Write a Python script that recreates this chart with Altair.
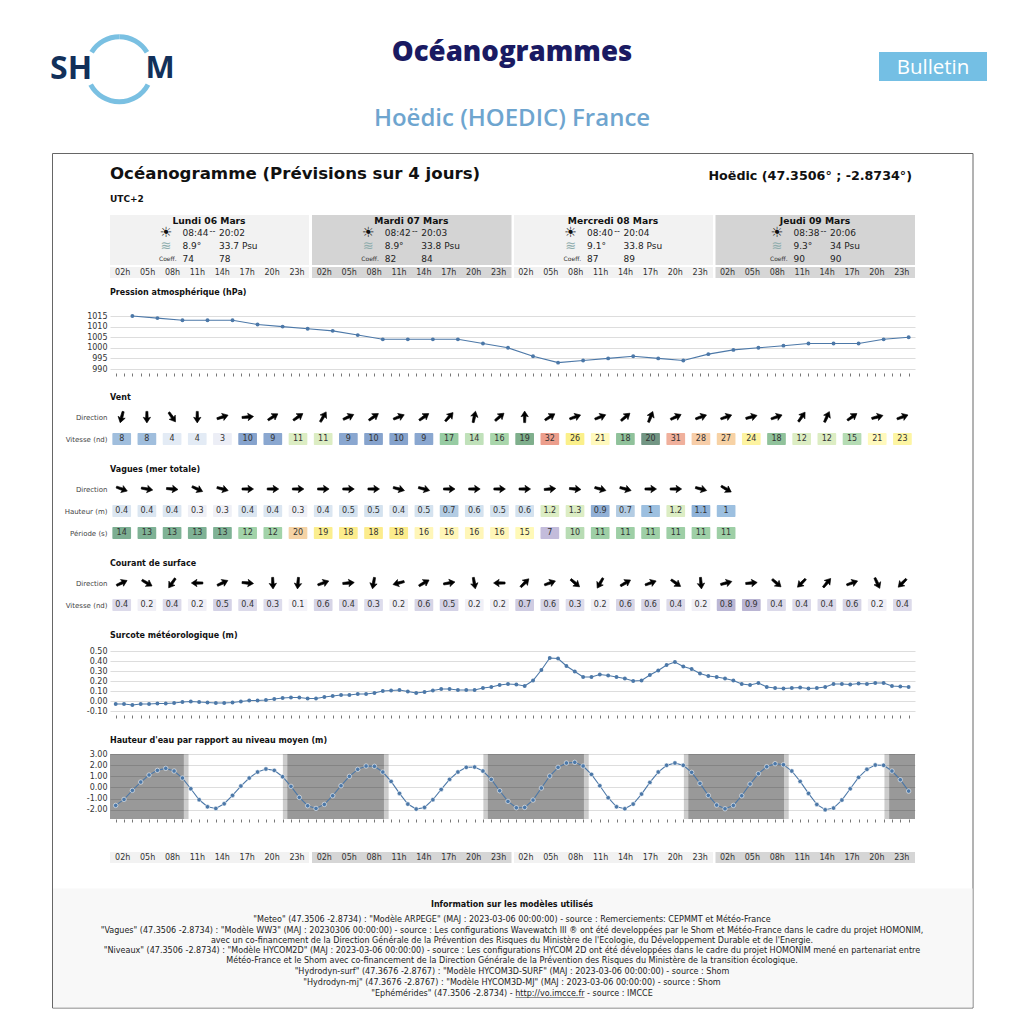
import altair as alt
import pandas as pd

# ---------- values ----------
PRESSION = [1015,1014,1013,1013,1013,1011,1010,1009,1008,1006,1004,1004,1004,1004,1002,1000,
            996,993,994,995,996,995,994,997,999,1000,1001,1002,1002,1002,1004,1005]
VENT_DIR = [195,180,145,180,72,85,58,55,30,65,55,68,55,42,12,50,
            0,58,70,68,50,22,65,70,70,75,70,35,25,55,75,70]
VENT_VIT = [8,8,4,4,3,10,9,11,11,9,10,10,9,17,14,16,19,32,26,21,18,20,31,28,27,24,18,12,12,15,21,23]
VAGUE_DIR = [110,100,95,115,105,90,90,90,90,90,90,105,105,90,90,90,90,85,95,105,105,90,90,105,120]
VAGUE_HAUT = [.4,.4,.4,.3,.3,.4,.4,.3,.4,.5,.5,.4,.5,.7,.6,.5,.6,1.2,1.3,.9,.7,1,1.2,1.1,1]
VAGUE_PER = [14,13,13,13,13,12,12,20,19,18,18,18,16,16,16,16,15,7,10,11,11,11,11,11,11]
COUR_DIR = [65,120,215,270,65,95,178,185,70,85,190,255,60,80,170,270,
            45,70,130,210,60,70,125,175,75,85,130,225,40,70,155,225]
COUR_VIT = [.4,.2,.4,.2,.5,.4,.3,.1,.6,.4,.3,.2,.6,.5,.2,.2,.7,.6,.3,.2,.6,.6,.4,.2,.8,.9,.4,.4,.4,.6,.2,.4]
SURCOTE = [-.03,-.03,-.04,-.03,-.03,-.025,-.025,-.02,-.01,-.005,-.01,-.015,-.02,-.02,-.015,-.005,
           .005,.005,.01,.02,.03,.035,.035,.025,.025,.04,.05,.06,.06,.07,.07,.08,
           .10,.105,.11,.095,.08,.09,.105,.12,.12,.11,.11,.11,.13,.14,.16,.17,.165,.15,
           .205,.31,.43,.425,.35,.295,.24,.24,.265,.255,.24,.225,.20,.205,.26,.305,.36,.39,
           .345,.32,.275,.25,.24,.225,.205,.17,.16,.18,.14,.13,.125,.13,.135,.125,.13,.14,
           .17,.17,.165,.175,.17,.18,.18,.15,.145,.14]
HAUTEUR = [-1.62,-1.08,-.27,.48,1.11,1.53,1.71,1.47,.84,-.12,-1.11,-1.74,-1.89,-1.47,-.72,.12,
           .84,1.38,1.65,1.53,.96,.09,-.9,-1.65,-1.89,-1.53,-.75,.15,.99,1.62,1.92,1.89,1.38,
           .54,-.54,-1.5,-1.95,-1.8,-1.11,-.18,.72,1.38,1.8,1.83,1.47,.72,-.3,-1.26,-1.83,-1.8,
           -1.14,-.06,1.02,1.8,2.19,2.25,1.92,1.17,.15,-.93,-1.74,-1.92,-1.5,-.6,.45,1.38,1.98,
           2.19,1.98,1.35,.36,-.72,-1.59,-1.92,-1.62,-.75,.3,1.23,1.86,2.13,2.04,1.47,.54,-.54,
           -1.53,-2.01,-1.86,-1.14,-.12,.9,1.62,2.01,1.98,1.47,.69,-.33]
NUIT_DEBUT = [-0.68, 20.56, 44.58, 68.6, 92.66]      # hours, full night starts
NUIT_FIN = [8.17, 32.14, 56.1, 80.07, 95.76]         # hours, full night ends
CREP_DEBUT = [8.17, 20.03, 32.14, 44.05, 56.1, 68.07, 80.07, 92.1]   # twilight
CREP_FIN = [8.73, 20.56, 32.7, 44.58, 56.67, 68.6, 80.63, 92.66]
JOURS = ["Lundi 06 Mars", "Mardi 07 Mars", "Mercredi 08 Mars", "Jeudi 09 Mars"]
LEVER = ["08:44", "08:42", "08:40", "08:38"]
COUCHER = ["20:02", "20:03", "20:04", "20:06"]
TEMP = ["8.9°", "8.9°", "9.1°", "9.3°"]
SALI = ["33.7 Psu", "33.8 Psu", "33.8 Psu", "34 Psu"]
COEF1 = ["74", "82", "87", "90"]
COEF2 = ["78", "84", "89", "90"]
HEURES = ["02h", "05h", "08h", "11h", "14h", "17h", "20h", "23h"]
FOOTER = [
 '"Meteo" (47.3506 -2.8734) : "Modèle ARPEGE" (MAJ : 2023-03-06 00:00:00) - source : Remerciements: CEPMMT et Météo-France',
 '"Vagues" (47.3506 -2.8734) : "Modèle WW3" (MAJ : 20230306 00:00:00) - source : Les configurations Wavewatch III ® ont été developpées par le Shom et Météo-France dans le cadre du projet HOMONIM,',
 "avec un co-financement de la Direction Générale de la Prévention des Risques du Ministère de l'Ecologie, du Développement Durable et de l'Energie.",
 '"Niveaux" (47.3506 -2.8734) : "Modèle HYCOM2D" (MAJ : 2023-03-06 00:00:00) - source : Les configurations HYCOM 2D ont été développées dans le cadre du projet HOMONIM mené en partenariat entre',
 "Météo-France et le Shom avec co-financement de la Direction Générale de la Prévention des Risques du Ministère de la transition écologique.",
 '"Hydrodyn-surf" (47.3676 -2.8767) : "Modèle HYCOM3D-SURF" (MAJ : 2023-03-06 00:00:00) - source : Shom',
 '"Hydrodyn-mj" (47.3676 -2.8767) : "Modèle HYCOM3D-MJ" (MAJ : 2023-03-06 00:00:00) - source : Shom',
 '"Ephémérides" (47.3506 -2.8734) - http://vo.imcce.fr - source : IMCCE',
]
FOOTER_Y = [918.7, 930, 940, 950.5, 960.5, 971, 981.7, 993]

# ---------- layout ----------
W = 805
FONT = "DejaVu Sans"
BLUE = "#4c78a8"
XH = alt.Scale(domain=[-0.68, 95.76], range=[0, W])
XC = alt.Scale(domain=[-0.465, 31.5], range=[0, W])
ARROW = "M0,-1 L0.62,-0.05 L0.22,-0.18 L0.17,0.95 L-0.17,0.95 L-0.22,-0.18 L-0.62,-0.05 Z"
DAY_X0 = [110, 312, 514, 715.5]
DAY_X1 = [309, 511.5, 713, 915]
DAY_BG = ["#f2f2f2", "#d6d6d6", "#f2f2f2", "#d6d6d6"]
CARD_BG = ["#f2f2f2", "#d4d4d4", "#f2f2f2", "#d4d4d4"]


def txt(rows, top, **mark):
    """Text marks placed in page pixels; top = page y of the panel."""
    df = pd.DataFrame(rows, columns=["px", "py", "t"])
    df["px"] -= 110
    df["py"] = df["py"] - top + 0.8
    style = dict(font=FONT, baseline="middle", align="left", color="#222")
    style.update(mark)
    return alt.Chart(df).mark_text(**style).encode(
        x=alt.X("px:Q", scale=None, axis=None), y=alt.Y("py:Q", scale=None, axis=None), text="t:N")


def box(rows, top, **mark):
    df = pd.DataFrame(rows, columns=["a", "b", "c", "d"])
    df["a"] -= 110
    df["b"] -= 110
    df["c"] -= top
    df["d"] -= top
    return alt.Chart(df).mark_rect(**mark).encode(
        x=alt.X("a:Q", scale=None, axis=None), x2="b:Q", y=alt.Y("c:Q", scale=None, axis=None), y2="d:Q")


def strip(y0, y1, top, colors):
    boxes = [box([(DAY_X0[d], DAY_X1[d], y0, y1)], top, color=colors[d]) for d in range(4)]
    rows = [(122.7 + 24.9 * k + 201.6 * d, (y0 + y1) / 2, HEURES[k]) for d in range(4) for k in range(8)]
    return boxes + [txt(rows, top, fontSize=8, align="center", color="#333")]


def section(title, height, title_y, top):
    return alt.layer(txt([(110, title_y, title)], top, fontSize=8, fontWeight="bold", color="#111")).properties(width=W, height=height)


def hour_axis(offset):
    return alt.Axis(values=list(range(96)), labels=False, domain=False, grid=False, title=None,
                    tickSize=3, tickColor="#777", tickWidth=1, offset=offset)


def val_axis(vals, fmt):
    a = dict(values=vals, title=None, domain=False, ticks=False, grid=True, gridColor="#dddddd",
             labelFontSize=8, labelColor="#333", labelPadding=3, labelFont=FONT)
    if fmt:
        a["labelExpr"] = "replace(format(datum.value, '.2f'), '−', '-')"
    else:
        a["format"] = "d"
    return alt.Axis(**a)


def series_panel(hours, values, vals, domain, height, fmt, offset, halo=False, extra=()):
    df = pd.DataFrame({"h": hours, "v": values})
    x = alt.X("h:Q", scale=XH, axis=hour_axis(offset))
    y = alt.Y("v:Q", scale=alt.Scale(domain=domain, nice=False, zero=False), axis=val_axis(vals, fmt))
    base = alt.Chart(df).encode(x=x, y=y)
    line = base.mark_line(color=BLUE, strokeWidth=1.1)
    if halo:
        pts = base.mark_circle(size=20, color=BLUE, opacity=1, stroke="#ffffff", strokeOpacity=0.55, strokeWidth=1)
    else:
        pts = base.mark_circle(size=15, color=BLUE, opacity=1)
    return alt.layer(*extra, line, pts).properties(width=W, height=height)


def thr(pairs):
    vals = [p[0] for p in pairs]
    dom = [(a + b) / 2 for a, b in zip(vals, vals[1:])]
    return alt.Scale(type="threshold", domain=dom, range=[p[1] for p in pairs])


C_VENT = thr([(3,"#eceef6"),(4,"#e3ebf5"),(8,"#a0bedd"),(9,"#8aa7d0"),(10,"#86a3cd"),(11,"#dcedc3"),(12,"#dcedc3"),
              (14,"#c0e1ba"),(15,"#b5dcb4"),(16,"#a9d6ab"),(17,"#97cca3"),(18,"#90c29b"),(19,"#7faf8c"),(20,"#729684"),
              (21,"#fff9bc"),(23,"#fdf5a2"),(24,"#fdf3a0"),(26,"#fbf08a"),(27,"#f7d2a5"),(28,"#f7cda8"),(31,"#f0b09c"),(32,"#ec9e8c")])
C_HAUT = thr([(.3,"#eff0f6"),(.4,"#dbe6f1"),(.5,"#d4e2ef"),(.6,"#d4e2ef"),(.7,"#b3cce3"),(.9,"#91b0d6"),(1,"#9dc0e0"),
              (1.1,"#8fb3d9"),(1.2,"#dcedc4"),(1.3,"#dcedc4")])
C_PER = thr([(7,"#c3bcdb"),(10,"#b8dcb4"),(11,"#9ecfa6"),(12,"#a2d3a9"),(13,"#7fb295"),(14,"#7cae92"),(15,"#fff9b8"),
             (16,"#fff6b8"),(18,"#fcec8c"),(19,"#fbee8e"),(20,"#f5d3a5")])
C_COUR = thr([(.1,"#f3f2f8"),(.2,"#f0eff6"),(.3,"#dddcec"),(.4,"#dcdaea"),(.5,"#d4d2e6"),(.6,"#d6d4e6"),(.7,"#cfcce2"),
              (.8,"#bbb7d5"),(.9,"#bab5d3")])


def rows_panel(rows, step):
    """rows: list of (label, values, kind, colour scale)."""
    names = [r[0] for r in rows]
    ys = alt.Scale(type="point", domain=names, padding=0)
    yaxis = alt.Axis(title=None, domain=False, ticks=False, grid=False, labelFontSize=7, labelColor="#444",
                     labelPadding=3, labelFont=FONT)
    layers = []
    for name, values, kind, scale in rows:
        df = pd.DataFrame({"i": range(len(values)), "v": values, "r": name})
        x = alt.X("i:Q", scale=XC, axis=None)
        y = alt.Y("r:N", scale=ys, axis=yaxis)
        if kind == "dir":
            layers.append(alt.Chart(df).mark_point(shape=ARROW, filled=True, color="#000", opacity=1, size=140,
                                                   stroke="#000", strokeWidth=0.6).encode(
                x=x, y=y, angle=alt.Angle("v:Q", scale=alt.Scale(domain=[0, 360], range=[0, 360]), legend=None)))
        else:
            layers.append(alt.Chart(df).mark_rect(width=18.7, height=12, cornerRadius=1).encode(
                x=x, y=y, fill=alt.Fill("v:Q", scale=scale, legend=None)))
            layers.append(alt.Chart(df).mark_text(fontSize=8, color="#333", font=FONT).encode(x=x, y=y, text=alt.Text("v:N")))
    return alt.layer(*layers).resolve_scale(fill="independent").properties(width=W, height=step * (len(rows) - 1))


# ---------- header ----------
T0 = 8
head = [
    box([(8, 1016, 8, 1008)], T0, color="#ffffff"),
    box([(52.5, 973, 153.5, 1008)], T0, fill="#ffffff", stroke="#666666", strokeWidth=1),
    txt([(50, 68.5, "SH")], T0, font="Open Sans", fontSize=32, fontWeight="bold", color="#12305a"),
    txt([(145.5, 68.5, "M")], T0, font="Open Sans", fontSize=31, fontWeight="bold", color="#12305a"),
    txt([(512, 52, "Océanogrammes")], T0, font="Open Sans", fontSize=27.6, fontWeight=800, color="#1a1a62", align="center"),
    txt([(512, 118, "Hoëdic (HOEDIC) France")], T0, font="Open Sans", fontSize=24, fontWeight=600, color="#6ea5cf", align="center"),
    box([(879, 987, 52, 81)], T0, color="#74bfe4"),
    txt([(933, 67, "Bulletin")], T0, font="Open Sans", fontSize=20.5, color="#ffffff", align="center"),
    txt([(110, 173.3, "Océanogramme (Prévisions sur 4 jours)")], T0, fontSize=16.6, fontWeight="bold", color="#111"),
    txt([(912, 174.8, "Hoëdic (47.3506° ; -2.8734°)")], T0, fontSize=12.7, fontWeight="bold", color="#111", align="right"),
    txt([(110, 198, "UTC+2")], T0, fontSize=9, fontWeight="bold", color="#111"),
    txt([(110, 292, "Pression atmosphérique (hPa)")], T0, fontSize=8, fontWeight="bold", color="#111"),
]
for arc_from, arc_to in [(0, 1.02), (5.263, 6.283), (2.06, 4.22)]:
    head.append(alt.Chart(pd.DataFrame({"k": [0]})).mark_arc(
        theta=arc_from, theta2=arc_to, radius=35, radius2=30, color="#7ac0e2").encode(
        x=alt.value(119.3 - 110), y=alt.value(69.3 - T0)))
centers = [209, 411.3, 613, 815]
shift = [0, 0, 0.6, 5]
names, sm, ln1, ln2, sun, wave, coef = [], [], [], [], [], [], []
for d in range(4):
    c, s = centers[d], shift[d]
    names.append((c, 220, JOURS[d]))
    sun.append((c - 43 + s, 232.3, "☀"))
    wave.append((c - 43 + s, 245, "≋"))
    coef.append((c - 50 + s, 258, "Coeff."))
    for y, a, b in [(232, LEVER[d], COUCHER[d]), (245, TEMP[d], SALI[d]), (258, COEF1[d], COEF2[d])]:
        ln1.append((c - 26.5 + s, y, a))
        ln2.append((c + 10 + s, y, b))
    sm.append((c + 3.5 + s, 231.5, "--"))
head += [box([(DAY_X0[d], DAY_X1[d], 215, 265)], T0, color=CARD_BG[d]) for d in range(4)]
head += strip(267, 278, T0, DAY_BG)
head += [
    txt(names, T0, fontSize=9.2, fontWeight="bold", color="#111", align="center"),
    txt(ln1 + ln2, T0, fontSize=9, color="#222"),
    txt(sm, T0, fontSize=8, color="#222", align="center"),
    txt(sun, T0, fontSize=14, color="#111", align="center"),
    txt(wave, T0, fontSize=13, color="#8fadad", align="center"),
    txt(coef, T0, fontSize=6, color="#333"),
]
header = alt.layer(*head).properties(width=W, height=316 - T0)

# ---------- panels (whole-pixel heights so that the stack lands where the reference has it) ----------
pression = series_panel([2 + 3 * i for i in range(32)], PRESSION, [990, 995, 1000, 1005, 1010, 1015],
                        [990, 1015], 53, False, 4)
vent_t = section("Vent", 48, 397, 369)
vent = rows_panel([("Direction", VENT_DIR, "dir", None), ("Vitesse (nd)", VENT_VIT, "val", C_VENT)], 22)
vag_t = section("Vagues (mer totale)", 50, 469, 439)
vag = rows_panel([("Direction", VAGUE_DIR, "dir", None), ("Hauteur (m)", VAGUE_HAUT, "val", C_HAUT),
                  ("Période (s)", VAGUE_PER, "val", C_PER)], 22)
cou_t = section("Courant de surface", 50, 563, 533)
cou = rows_panel([("Direction", COUR_DIR, "dir", None), ("Vitesse (nd)", COUR_VIT, "val", C_COUR)], 22)
sur_t = section("Surcote météorologique (m)", 46, 635, 605)
surcote = series_panel(list(range(96)), SURCOTE, [-0.1, 0, 0.1, 0.2, 0.3, 0.4, 0.5], [-0.1, 0.5], 60, True, 4)
hau_t = section("Hauteur d'eau par rapport au niveau moyen (m)", 43, 740, 711)
nuit = alt.Chart(pd.DataFrame({"a": NUIT_DEBUT, "b": NUIT_FIN})).mark_rect(color="#000", opacity=0.4).encode(
    x=alt.X("a:Q", scale=XH, axis=hour_axis(0)), x2="b:Q")
crep = alt.Chart(pd.DataFrame({"a": CREP_DEBUT, "b": CREP_FIN})).mark_rect(color="#000", opacity=0.2).encode(
    x=alt.X("a:Q", scale=XH, axis=hour_axis(0)), x2="b:Q")
hauteur = series_panel(list(range(96)), HAUTEUR, [-2, -1, 0, 1, 2, 3], [-2.84, 3], 65, True, 0, halo=True, extra=(nuit, crep))

T1 = 819
foot = strip(852, 863, T1, DAY_BG)
foot += [
    box([(53, 972.5, 888.5, 1007.5)], T1, color="#f8f8f8"),
    txt([(512, 904, "Information sur les modèles utilisés")], T1, fontSize=8, fontWeight="bold", color="#111", align="center"),
    txt([(512, y, t) for y, t in zip(FOOTER_Y, FOOTER)], T1, fontSize=8.05, color="#222", align="center"),
    box([(515.5, 584.5, 997, 997.6)], T1, color="#222"),
]
bottom = alt.layer(*foot).properties(width=W, height=1008 - T1)

chart = alt.vconcat(header, pression, vent_t, vent, vag_t, vag, cou_t, cou, sur_t, surcote, hau_t, hauteur, bottom,
                    spacing=0, bounds="flush").properties(padding=0).configure(font=FONT).configure_view(stroke=None)
chart.save("out.html", embed_options={"renderer": "svg", "actions": False})
